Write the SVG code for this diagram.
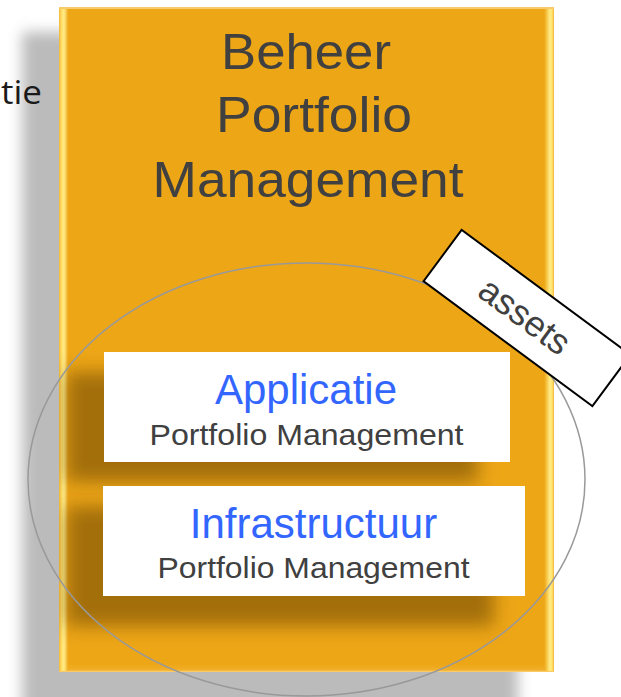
<svg xmlns="http://www.w3.org/2000/svg" width="621" height="697" viewBox="0 0 621 697">
  <style>
    .title { font-family: "Liberation Sans", Arial, sans-serif; font-size: 50px; fill: #404040; text-anchor: middle; }
    .head { font-family: "Liberation Sans", Arial, sans-serif; font-size: 42px; fill: #3366FF; text-anchor: middle; }
    .sub { font-family: "Liberation Sans", Arial, sans-serif; font-size: 29.5px; fill: #404040; text-anchor: middle; }
    .lbl { font-family: "Liberation Sans", Arial, sans-serif; font-size: 36px; fill: #404040; text-anchor: middle; }
    .card { fill: #FFFFFF; }
    .cardshadow { fill: #5A3A00; fill-opacity: 0.5; filter: url(#blurS); }
  </style>
  <defs>
    <filter id="blurL" x="-20%" y="-20%" width="140%" height="140%">
      <feGaussianBlur stdDeviation="7"/>
    </filter>
    <filter id="blurS" x="-20%" y="-40%" width="140%" height="180%">
      <feGaussianBlur stdDeviation="9"/>
    </filter>
    <linearGradient id="bevL" x1="0" y1="0" x2="1" y2="0">
      <stop offset="0" stop-color="#F2B838"/>
      <stop offset="0.25" stop-color="#FFDD66"/>
      <stop offset="0.5" stop-color="#FFEC88"/>
      <stop offset="0.75" stop-color="#F6C446"/>
      <stop offset="1" stop-color="#EDA616" stop-opacity="0"/>
    </linearGradient>
    <linearGradient id="bevR" x1="0" y1="0" x2="1" y2="0">
      <stop offset="0" stop-color="#EDA616" stop-opacity="0"/>
      <stop offset="0.35" stop-color="#F7C84A"/>
      <stop offset="0.65" stop-color="#FFEE88"/>
      <stop offset="0.85" stop-color="#FFDD66"/>
      <stop offset="1" stop-color="#F2B535"/>
    </linearGradient>
    <linearGradient id="bevB" x1="0" y1="0" x2="0" y2="1">
      <stop offset="0" stop-color="#EDA616" stop-opacity="0"/>
      <stop offset="0.8" stop-color="#F1B02C"/>
      <stop offset="1" stop-color="#FFD37A"/>
    </linearGradient>
    <clipPath id="boxClip">
      <rect x="59" y="7" width="495" height="665"/>
    </clipPath>
  </defs>

  <rect x="0" y="0" width="621" height="697" fill="#FFFFFF"/>

  <!-- outer drop shadow of the main box -->
  <rect x="22" y="32" width="496" height="690" fill="#BBBBBB" filter="url(#blurL)"/>

  <text x="1" y="104" font-family="'Open Sans', 'DejaVu Sans', sans-serif" font-size="32" fill="#1A1A1A" textLength="41" lengthAdjust="spacingAndGlyphs">tie</text>

  <g id="beheer">
    <rect x="59" y="7" width="495" height="665" fill="#EDA616"/>
    <rect x="59" y="7" width="495" height="2" fill="#F7CB6C"/>
    <rect x="59" y="662" width="495" height="10" fill="url(#bevB)"/>
    <rect x="59" y="9" width="10" height="662" fill="url(#bevL)"/>
    <rect x="543" y="9" width="11" height="662" fill="url(#bevR)"/>
    <text class="title" x="306" y="69" textLength="170" lengthAdjust="spacingAndGlyphs">Beheer</text>
    <text class="title" x="314" y="132" textLength="196" lengthAdjust="spacingAndGlyphs">Portfolio</text>
    <text class="title" x="308" y="197" textLength="311" lengthAdjust="spacingAndGlyphs">Management</text>
  </g>

  <g clip-path="url(#boxClip)">
    <rect class="cardshadow" x="66" y="372" width="412" height="110"/>
    <rect class="cardshadow" x="66" y="506" width="428" height="120"/>
  </g>

  <g id="applicatie">
    <rect class="card" x="104" y="352" width="406" height="110"/>
    <text class="head" x="306" y="404">Applicatie</text>
    <text class="sub" x="306.5" y="445" textLength="314" lengthAdjust="spacingAndGlyphs">Portfolio Management</text>
  </g>

  <g id="infrastructuur">
    <rect class="card" x="103" y="486" width="422" height="110"/>
    <text class="head" x="313.5" y="538">Infrastructuur</text>
    <text class="sub" x="313.5" y="578" textLength="312" lengthAdjust="spacingAndGlyphs">Portfolio Management</text>
  </g>

  <g id="scope">
    <ellipse cx="306.5" cy="479.5" rx="278.5" ry="216.5" fill="none" stroke="#999999" stroke-width="1.5"/>
  </g>

  <g id="assets" transform="translate(527 318) rotate(36.5)">
    <rect x="-105" y="-32" width="210" height="64" fill="#FFFFFF" stroke="#000000" stroke-width="2"/>
    <text class="lbl" x="-3" y="12">assets</text>
  </g>

  <g id="connectors"/>
</svg>
